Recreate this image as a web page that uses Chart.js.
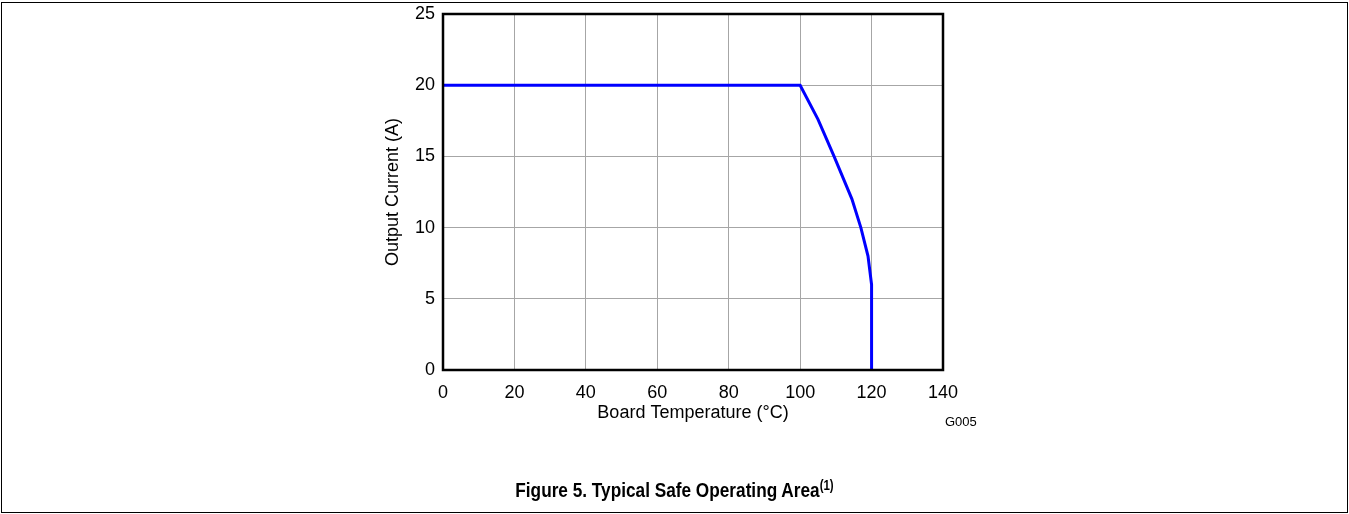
<!DOCTYPE html>
<html>
<head>
<meta charset="utf-8">
<script src="https://cdn.jsdelivr.net/npm/chart.js@4"></script>
<style>
  html, body { margin: 0; padding: 0; background: #fff; }
  #page { position: relative; width: 1349px; height: 514px; overflow: hidden; }
  #frame { position: absolute; left: 1px; top: 2px; width: 1345px; height: 509px; border: 1px solid #000; }
  #chart { position: absolute; left: 0; top: 0; }
  .txt { position: absolute; font-family: "Liberation Sans", Arial, sans-serif; color: #000; white-space: nowrap; }
  #code { left: 945px; top: 414px; font-size: 13px; }
  #caption { left: 0; width: 1349px; top: 479px; line-height: 21px; text-align: center; font-size: 21px; font-weight: bold;
             transform: scaleX(0.82); transform-origin: 674.5px 0; }
  #caption sup { font-size: 14px; line-height: 0; vertical-align: 7px; }
</style>
</head>
<body>
<div id="page">
  <div id="frame"></div>
  <canvas id="chart" width="1349" height="514"></canvas>
  <div id="code" class="txt">G005</div>
  <div id="caption" class="txt">Figure 5. Typical Safe Operating Area<sup>(1)</sup></div>
</div>
<script>
// --- Datos ---
const temperaturas = [0, 100, 105, 109.5, 114.5, 117, 119, 120, 120]; // Board Temperature (°C)
const corrientes = [20, 20, 17.6, 15, 12, 10, 8, 6, 0]; // Output Current (A)
const ticksX = [0, 20, 40, 60, 80, 100, 120, 140];
const ticksY = [0, 5, 10, 15, 20, 25];

const fuente = { family: "'Liberation Sans', Arial, sans-serif", size: 18 };

// marco negro alrededor del área del gráfico
const marco = {
  id: "marco",
  afterDraw(chart) {
    const { ctx, chartArea: a } = chart;
    ctx.save();
    ctx.strokeStyle = "#000";
    ctx.lineWidth = 2.5;
    ctx.strokeRect(a.left, a.top, a.right - a.left, a.bottom - a.top);
    ctx.restore();
  }
};

new Chart(document.getElementById("chart").getContext("2d"), {
  type: "line",
  data: {
    datasets: [{
      data: temperaturas.map((t, i) => ({ x: t, y: corrientes[i] })),
      borderColor: "#0000ff",
      borderWidth: 3,
      pointRadius: 0,
      tension: 0,
      fill: false
    }]
  },
  options: {
    responsive: false,
    animation: false,
    layout: { padding: { left: 378, right: 406, top: 14, bottom: 86 } },
    plugins: { legend: { display: false }, tooltip: { enabled: false } },
    scales: {
      x: {
        type: "linear",
        min: 0, max: 140,
        afterBuildTicks: s => { s.ticks = ticksX.map(v => ({ value: v })); },
        afterFit: s => { s.height = 58; s.paddingLeft = 0; s.paddingRight = 0; }, // alto fijo del eje X
        ticks: { color: "#000", font: fuente, padding: 12, maxRotation: 0 },
        grid: { color: "#a6a6a6", lineWidth: 1, drawTicks: false },
        border: { display: false },
        title: { display: true, text: "Board Temperature (°C)", color: "#000", font: fuente, padding: { top: 3, bottom: 4 } }
      },
      y: {
        type: "linear",
        min: 0, max: 25,
        afterBuildTicks: s => { s.ticks = ticksY.map(v => ({ value: v })); },
        afterFit: s => { s.width = 65; s.paddingTop = 0; s.paddingBottom = 0; }, // ancho fijo del eje Y
        ticks: { color: "#000", font: fuente, padding: 8 },
        grid: { color: "#a6a6a6", lineWidth: 1, drawTicks: false },
        border: { display: false },
        title: { display: true, text: "Output Current (A)", color: "#000", font: fuente, padding: { top: 4, bottom: 11 } }
      }
    }
  },
  plugins: [marco]
});
</script>
</body>
</html>
